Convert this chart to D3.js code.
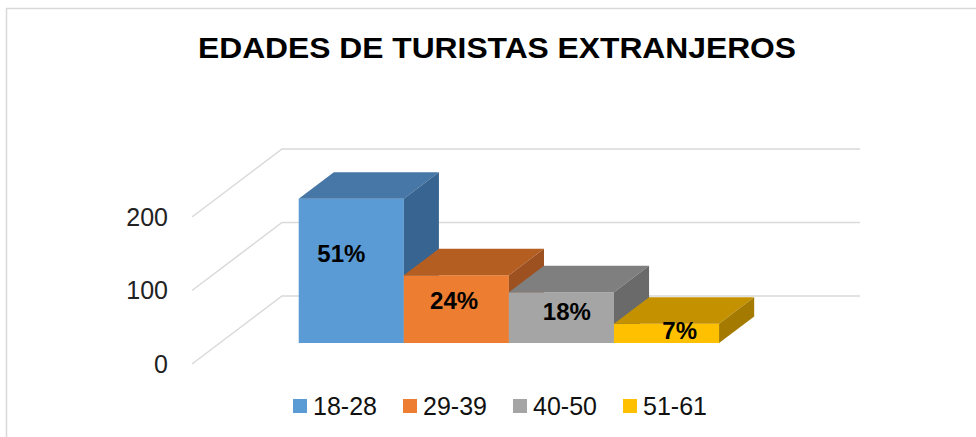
<!DOCTYPE html>
<html><head><meta charset="utf-8">
<script src="https://cdn.jsdelivr.net/npm/d3@7"></script>
<style>body{margin:0;background:#fff}svg{display:block}</style>
</head><body>
<script>
const title = "EDADES DE TURISTAS EXTRANJEROS";
const categories = ["18-28", "29-39", "40-50", "51-61"];
const values = [196, 92, 69, 26];
const percentLabels = ["51%", "24%", "18%", "7%"];
const tickValues = [0, 100, 200];
const frontColors = ["#5B9BD5", "#ED7D31", "#A5A5A5", "#FFC000"];
const topColors = ["#4677A6", "#B55E22", "#7F7F7F", "#C49200"];
const sideColors = ["#386491", "#9D5020", "#6A6A6A", "#A47A00"];

const W = 976, H = 437;
const svg = d3.select("body").append("svg").attr("width", W).attr("height", H);
svg.append("rect").attr("x", 6.5).attr("y", 8.5).attr("width", 1000).attr("height", 500)
  .attr("fill", "#fff").attr("stroke", "#D9D9D9").attr("stroke-width", 1.5);

// depth projection
const DX = 90, DY = -68;
const proj = (x, y, d) => [x + DX * d, y + DY * d];
const y = d3.scaleLinear().domain([0, 200]).range([364, 217]);
const x = d3.scaleBand().domain(categories).range([192, 770]).paddingInner(0).paddingOuter(0.75);
const d0 = 0.31, d1 = 0.70;

// gridlines
const grid = svg.append("g").attr("stroke", "#D9D9D9").attr("stroke-width", 1.5).attr("fill", "none");
tickValues.forEach(t => {
  const a = proj(192, y(t), 0), b = proj(192, y(t), 1), c = proj(770, y(t), 1);
  grid.append("polyline").attr("points", [a, b, c].map(p => p.join(",")).join(" "));
});

// tick labels
svg.append("g").selectAll("text").data(tickValues).join("text")
  .attr("x", 168).attr("y", d => y(d)).attr("dy", "0.35em")
  .attr("text-anchor", "end").attr("font-family", "Liberation Sans, Arial, sans-serif")
  .attr("font-size", 25).attr("fill", "#222").text(d => d);

// bars
const bars = svg.append("g");
categories.forEach((c, i) => {
  const xl = x(c), xr = x(c) + x.bandwidth();
  const yt = y(values[i]), yb = y(0);
  const P = (px, py, d) => proj(px, py, d).join(",");
  const g = bars.append("g");
  g.append("polygon").attr("points", [P(xl, yt, d0), P(xr, yt, d0), P(xr, yb, d0), P(xl, yb, d0)].join(" "))
    .attr("fill", frontColors[i]);
  g.append("polygon").attr("points", [P(xl, yt, d0), P(xr, yt, d0), P(xr, yt, d1), P(xl, yt, d1)].join(" "))
    .attr("fill", topColors[i]);
  g.append("polygon").attr("points", [P(xr, yt, d0), P(xr, yt, d1), P(xr, yb, d1), P(xr, yb, d0)].join(" "))
    .attr("fill", sideColors[i]);
});

// data labels (slight perspective spread about the chart centre)
const cxMid = 487, spread = 0.073;
svg.append("g").selectAll("text").data(categories).join("text")
  .attr("x", (c) => { const cx = proj(x(c) + x.bandwidth() / 2, 0, d0)[0]; return cx + (cx - cxMid) * spread; })
  .attr("y", (c, i) => proj(0, y(values[i]) * 0.62 + y(0) * 0.38, d0)[1])
  .attr("dy", "0.35em").attr("text-anchor", "middle")
  .attr("font-family", "Liberation Sans, Arial, sans-serif").attr("font-weight", "bold")
  .attr("font-size", 24).attr("fill", "#000").text((c, i) => percentLabels[i]);

// title
svg.append("text").attr("x", 497).attr("y", 58).attr("text-anchor", "middle")
  .attr("font-family", "Liberation Sans, Arial, sans-serif").attr("font-weight", "bold")
  .attr("font-size", 30).attr("textLength", 598).attr("lengthAdjust", "spacingAndGlyphs")
  .attr("fill", "#000").text(title);

// legend
const legendX = [293, 403, 513, 623];
const lg = svg.append("g").selectAll("g").data(categories).join("g")
  .attr("transform", (c, i) => `translate(${legendX[i]},399)`);
lg.append("rect").attr("width", 14).attr("height", 14).attr("fill", (c, i) => frontColors[i]);
lg.append("text").attr("x", 20).attr("y", 7).attr("dy", "0.36em")
  .attr("font-family", "Liberation Sans, Arial, sans-serif").attr("font-size", 25)
  .attr("fill", "#111").text(c => c);
</script>
</body></html>
